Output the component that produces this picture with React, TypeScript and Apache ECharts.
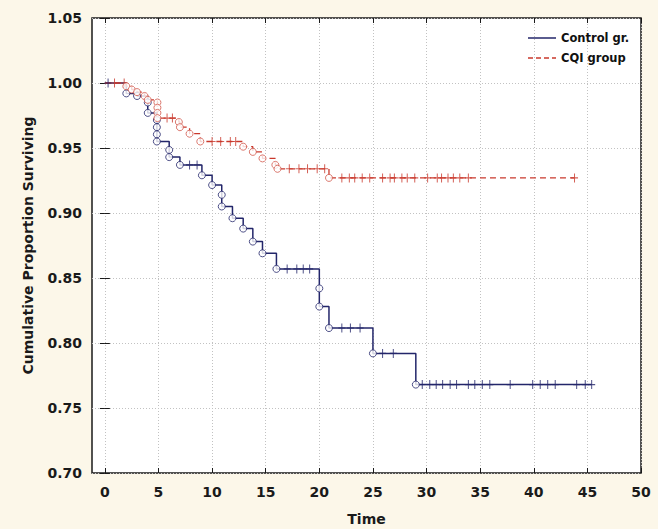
import React, { useEffect, useRef } from "react";
import * as echarts from "echarts";

// ---- Data ----
const xTicks = [0, 5, 10, 15, 20, 25, 30, 35, 40, 45, 50];

// Control group: event (death) times and survival after each event
const controlEventTimes = [2.0, 3.0, 4.0, 4.0, 4.85, 4.85, 4.85, 4.85, 6.0, 6.0, 7.0, 9.05, 10.0, 10.9, 10.9, 11.9, 12.9, 13.8, 14.7, 16.0, 20.0, 20.0, 20.9, 25.0, 29.0];
const controlEventSurv = [0.992, 0.99, 0.985, 0.977, 0.9715, 0.966, 0.9605, 0.955, 0.9485, 0.943, 0.937, 0.929, 0.9215, 0.914, 0.905, 0.896, 0.888, 0.878, 0.869, 0.857, 0.842, 0.828, 0.8115, 0.792, 0.768];
// Control group: censored times
const controlCensorTimes = [0.3, 7.9, 8.6, 17.0, 17.9, 18.5, 19.1, 22.1, 22.9, 23.8, 25.9, 26.9, 29.6, 30.3, 30.9, 31.5, 32.2, 32.8, 33.9, 34.5, 35.2, 35.9, 37.8, 39.9, 40.6, 41.3, 42.0, 44.0, 44.8, 45.4];

// CQI group
const cqiEventTimes = [2.0, 2.5, 3.0, 3.7, 4.0, 4.9, 4.9, 4.9, 4.9, 6.9, 7.0, 7.9, 8.9, 12.9, 13.8, 14.7, 15.9, 16.1, 20.9];
const cqiEventSurv = [0.9975, 0.995, 0.993, 0.99, 0.987, 0.985, 0.981, 0.977, 0.973, 0.97, 0.966, 0.961, 0.955, 0.951, 0.947, 0.942, 0.937, 0.934, 0.927];
const cqiCensorTimes = [0.9, 1.8, 5.8, 6.3, 10.0, 10.8, 11.7, 12.2, 17.2, 18.1, 18.9, 19.8, 20.5, 22.1, 22.8, 23.3, 24.0, 24.7, 25.9, 26.6, 27.0, 27.7, 28.2, 28.9, 30.1, 31.0, 31.4, 32.0, 32.5, 33.1, 33.9, 43.8];

const NAVY = "#23266a";
const RED = "#c9382c";
const RED_MARK = "#d2574b";
const CROSS = "path://M3,0h1v8h-1z M0,3.5h7v1h-7z";
const SOLID_ICON = "path://M0,0h28v1.5h-28z";
const DASH_ICON = "path://M0,0h5v1.5h-5z M8,0h5v1.5h-5z M16,0h5v1.5h-5z M24,0h4v1.5h-4z";

function levelAt(times: number[], surv: number[], t: number): number {
  let s = 1.0;
  for (let i = 0; i < times.length; i++) if (times[i] <= t) s = surv[i];
  return s;
}

function buildLine(times: number[], surv: number[], censors: number[]) {
  const pts: { t: number; s: number }[] = [{ t: 0, s: 1.0 }];
  times.forEach((t, i) => pts.push({ t, s: surv[i] }));
  censors.forEach((t) => pts.push({ t, s: levelAt(times, surv, t) }));
  pts.sort((a, b) => a.t - b.t || b.s - a.s);
  return pts.map((p) => [p.t, p.s]);
}

export default function App() {
  const ref = useRef<HTMLDivElement>(null);
  useEffect(() => {
    if (!ref.current) return;
    const chart = echarts.init(ref.current, undefined, { renderer: "svg" });
    const font = "DejaVu Sans";
    const labelStyle = { fontFamily: font, fontWeight: "bold" as const, fontSize: 14, color: "#1a1a1a" };
    const tickStyle = { color: "#1a1a1a", width: 1 };
    const split = { show: true, lineStyle: { color: "#c2c2c2", type: [1, 2] as any, width: 1 } };

    chart.setOption({
      animation: false,
      backgroundColor: "#fcf7e9",
      grid: {
        left: 92,
        right: 17,
        top: 18,
        bottom: 56,
        outerBoundsMode: "none",
        containLabel: false,
        show: true,
        backgroundColor: "#ffffff",
        borderColor: "#1a1a1a",
        borderWidth: 1.5,
      },
      legend: {
        orient: "vertical",
        left: 523,
        top: 27,
        itemWidth: 28,
        itemHeight: 2,
        itemGap: 8,
        data: [
          { name: "Control gr.", icon: SOLID_ICON },
          { name: "CQI group", icon: DASH_ICON },
        ],
        textStyle: { fontFamily: font, fontWeight: "bold", fontSize: 11.5, color: "#111" },
      },
      xAxis: [
        {
          type: "value",
          min: -1.2,
          max: 50,
          position: "bottom",
          name: "Time",
          nameLocation: "middle",
          nameGap: 39,
          nameTextStyle: { ...labelStyle },
          axisLine: { show: false },
          axisTick: { show: true, inside: true, length: 5, customValues: xTicks, lineStyle: tickStyle },
          axisLabel: { show: true, customValues: xTicks, margin: 12, ...labelStyle },
          splitLine: split,
        },
        {
          type: "value",
          min: -1.2,
          max: 50,
          position: "top",
          axisLine: { show: false },
          axisTick: { show: true, inside: true, length: 5, customValues: xTicks, lineStyle: tickStyle },
          axisLabel: { show: false },
          splitLine: { show: false },
        },
      ],
      yAxis: [
        {
          type: "value",
          min: 0.7,
          max: 1.05,
          interval: 0.05,
          position: "left",
          name: "Cumulative Proportion Surviving",
          nameLocation: "middle",
          nameGap: 57,
          nameTextStyle: { ...labelStyle },
          axisLine: { show: false },
          axisTick: { show: true, inside: true, length: 5, lineStyle: tickStyle },
          axisLabel: { margin: 10, formatter: (v: number) => v.toFixed(2), ...labelStyle },
          splitLine: split,
        },
        {
          type: "value",
          min: 0.7,
          max: 1.05,
          interval: 0.05,
          position: "right",
          axisLine: { show: false },
          axisTick: { show: true, inside: true, length: 5, lineStyle: tickStyle },
          axisLabel: { show: false },
          splitLine: { show: false },
        },
      ],
      series: [
        {
          name: "Control gr.",
          type: "line",
          step: "end",
          symbol: "none",
          data: buildLine(controlEventTimes, controlEventSurv, controlCensorTimes),
          lineStyle: { color: NAVY, width: 1.5 },
          itemStyle: { color: NAVY },
          z: 3,
        },
        {
          name: "CQI group",
          type: "line",
          step: "end",
          symbol: "none",
          data: buildLine(cqiEventTimes, cqiEventSurv, cqiCensorTimes),
          lineStyle: { color: RED, width: 1.3, type: [6, 4] },
          itemStyle: { color: RED },
          z: 3,
        },
        {
          name: "controlCensored",
          type: "scatter",
          symbol: CROSS,
          symbolSize: [7, 9],
          data: controlCensorTimes.map((t) => [t, levelAt(controlEventTimes, controlEventSurv, t)]),
          itemStyle: { color: NAVY },
          z: 4,
        },
        {
          name: "cqiCensored",
          type: "scatter",
          symbol: CROSS,
          symbolSize: [7, 9],
          data: cqiCensorTimes.map((t) => [t, levelAt(cqiEventTimes, cqiEventSurv, t)]),
          itemStyle: { color: RED },
          z: 4,
        },
        {
          name: "controlEvents",
          type: "scatter",
          symbol: "circle",
          symbolSize: 7,
          data: controlEventTimes.map((t, i) => [t, controlEventSurv[i]]),
          itemStyle: { color: "#ffffff", borderColor: NAVY, borderWidth: 1 },
          z: 5,
        },
        {
          name: "cqiEvents",
          type: "scatter",
          symbol: "circle",
          symbolSize: 7,
          data: cqiEventTimes.map((t, i) => [t, cqiEventSurv[i]]),
          itemStyle: { color: "#ffffff", borderColor: RED_MARK, borderWidth: 1 },
          z: 5,
        },
      ],
    });
    return () => chart.dispose();
  }, []);
  return (
    <div
      ref={ref}
      style={{ position: "fixed", left: 0, top: 0, width: 658, height: 529 }}
    />
  );
}
